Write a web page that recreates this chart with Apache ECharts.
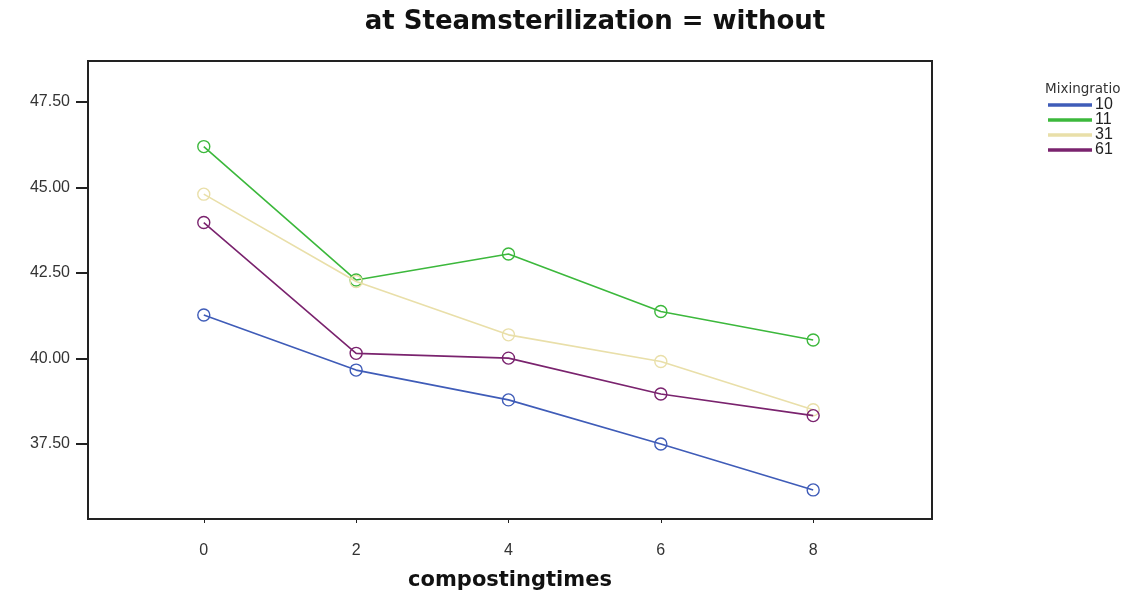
<!DOCTYPE html>
<html>
<head>
<meta charset="utf-8">
<script src="https://cdn.jsdelivr.net/npm/echarts@6/dist/echarts.min.js"></script>
<style>
  html, body { margin: 0; padding: 0; background: #fff; }
  #chart { width: 1137px; height: 594px; }
</style>
</head>
<body>
<div id="chart"></div>
<script>
// Composting time (x) and mean value per mixing ratio
const times = [0, 2, 4, 6, 8];
const ratioNames = ['10', '11', '31', '61'];
const r10 = [41.27, 39.66, 38.79, 37.50, 36.16];
const r11 = [46.19, 42.29, 43.05, 41.37, 40.54];
const r31 = [44.80, 42.25, 40.69, 39.91, 38.50];
const r61 = [43.97, 40.15, 40.01, 38.96, 38.33];
const xTicks = [0, 2, 4, 6, 8];
const yTicks = [37.5, 40, 42.5, 45, 47.5];

const colors = ['#3f5cb8', '#3cb83c', '#e9dfa9', '#7a236e'];
const values = [r10, r11, r31, r61];

const chart = echarts.init(document.getElementById('chart'));

const series = ratioNames.map((name, i) => ({
  name: name,
  type: 'line',
  data: times.map((t, j) => [t, values[i][j]]),
  symbol: 'circle',
  symbolSize: 12,
  lineStyle: { color: colors[i], width: 1.6 },
  itemStyle: { color: 'rgba(0,0,0,0)', borderColor: colors[i], borderWidth: 1.4 },
  emphasis: { disabled: true },
  z: 2 + i
}));

chart.setOption({
  animation: false,
  backgroundColor: '#fff',
  graphic: [
    {
      type: 'text', x: 595, y: 9,
      style: {
        text: 'at Steamsterilization = without',
        font: 'bold 26px "DejaVu Sans"', fill: '#111', textAlign: 'center'
      }
    },
    {
      type: 'text', x: 1045, y: 82,
      style: { text: 'Mixingratio', font: '13.5px "DejaVu Sans"', fill: '#333' }
    }
  ],
  legend: {
    orient: 'vertical',
    left: 1048, top: 97, padding: 0,
    icon: 'rect', itemWidth: 42, itemHeight: 1.5, itemGap: -1,
    textStyle: { fontFamily: 'Liberation Sans', fontSize: 16, lineHeight: 15, color: '#222', padding: [0, 0, 0, -1] },
    data: ratioNames.map((n, i) => ({ name: n, itemStyle: { color: colors[i] } }))
  },
  grid: {
    left: 88, right: 205, top: 61, bottom: 75,
    outerBoundsMode: 'none',
    show: true, borderColor: '#222', borderWidth: 2, backgroundColor: '#fff'
  },
  xAxis: {
    type: 'value', min: -1.52, max: 9.56,
    name: 'compostingtimes', nameLocation: 'middle', nameGap: 51,
    nameTextStyle: { fontFamily: 'DejaVu Sans', fontWeight: 'bold', fontSize: 21, color: '#111' },
    axisLine: { show: true, onZero: false, lineStyle: { color: '#222', width: 2 } },
    axisTick: { show: true, customValues: xTicks, length: 4, lineStyle: { color: '#222' } },
    axisLabel: { customValues: xTicks, margin: 24, fontFamily: 'Liberation Sans', fontSize: 16, color: '#333' },
    splitLine: { show: false }
  },
  yAxis: {
    type: 'value', min: 35.31, max: 48.69,
    axisLine: { show: true, onZero: false, lineStyle: { color: '#222', width: 2 } },
    axisTick: { show: true, customValues: yTicks, length: 12, lineStyle: { color: '#222', width: 2 } },
    axisLabel: {
      customValues: yTicks, margin: 18, fontFamily: 'Liberation Sans', fontSize: 16, color: '#333',
      formatter: v => v.toFixed(2)
    },
    splitLine: { show: false }
  },
  series: series
});
</script>
</body>
</html>
